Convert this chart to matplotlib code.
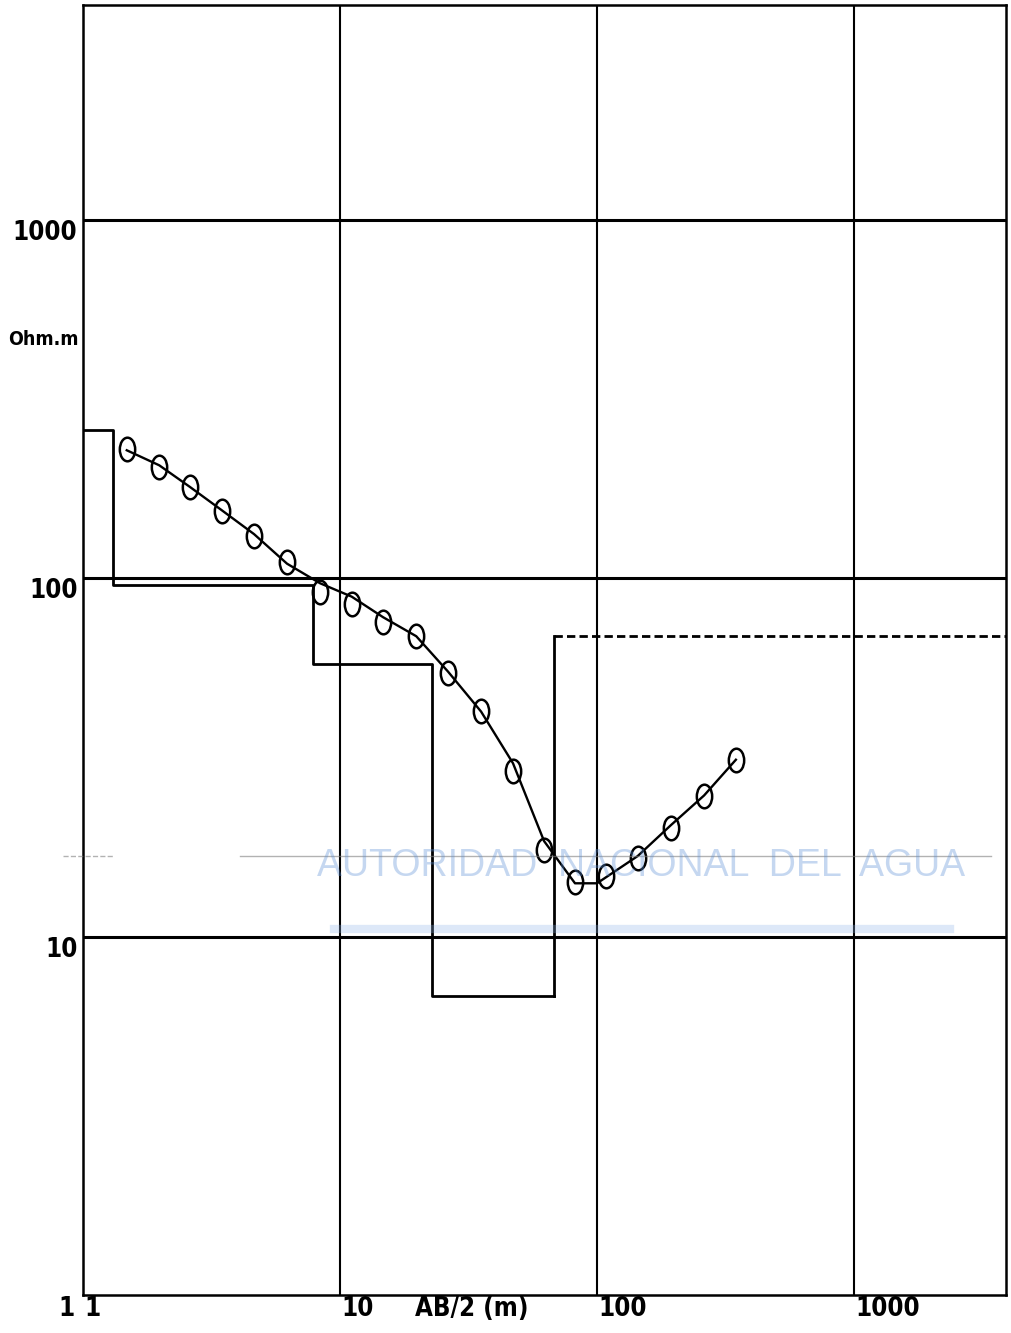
import matplotlib
matplotlib.use("Agg")
import matplotlib.pyplot as plt
from matplotlib.markers import MarkerStyle
from matplotlib.transforms import Affine2D

# sondeo electrico vertical - curva de campo y modelo de capas
ab2 = [1.48, 1.98, 2.61, 3.47, 4.63, 6.22, 8.36, 11.1, 14.7, 19.8,
       26.3, 35.4, 47.1, 62.2, 82.1, 108, 144, 194, 261, 347]
rho_obs = [230, 205, 180, 154, 131, 111, 91.7, 84.9, 75.6, 69.1,
           54.5, 42.7, 29.0, 17.5, 14.2, 14.8, 16.6, 20.1, 24.7, 31.2]

# curva calculada
ab2_calc = [1.48, 1.98, 2.61, 3.47, 4.63, 6.22, 8.36, 11.1, 14.7, 19.8,
            26.3, 35.4, 47.1, 62.2, 82.1, 100, 144, 194, 261, 347]
rho_calc = [228, 207, 180, 155, 133, 110, 97, 89, 78, 69,
            55, 42.5, 30.5, 18.5, 14.1, 14.1, 16.8, 20.5, 24.8, 31.2]

# modelo de capas
prof = [1.0, 1.31, 7.85, 22.8, 68.0]
rho_capa = [260, 95.9, 57.7, 6.85]
rho_sust = 69.1
x_max = 3900

plt.rcParams['font.family'] = ['DejaVu Sans']
plt.rcParams['font.stretch'] = 'condensed'
plt.rcParams['font.weight'] = 'bold'

fig = plt.figure(figsize=(10.11, 13.33), dpi=100)
ax = fig.add_axes([0.0821, 0.0285, 0.9129, 0.9675])
ax.set_xscale('log')
ax.set_yscale('log')
ax.set_xlim(1, x_max)
ax.set_ylim(1, 3980)

for v in [10, 100, 1000]:
    ax.axvline(v, color='black', lw=1.5, zorder=1)
    ax.axhline(v, color='black', lw=2.2, zorder=1)
for s in ax.spines.values():
    s.set_linewidth(1.8)
ax.tick_params(which='both', length=0, labelleft=False, labelbottom=False)

# modelo escalonado
xs, ys = [], []
for i, r in enumerate(rho_capa):
    xs += [prof[i], prof[i + 1]]
    ys += [r, r]
ax.plot(xs, ys, color='black', lw=2.0, zorder=2)
ax.plot([prof[-1], prof[-1]], [rho_capa[-1], rho_sust], color='black', lw=2.0, zorder=2)
ax.plot([prof[-1], x_max], [rho_sust, rho_sust], color='black', lw=2.0,
        ls=(0, (3, 1.5)), zorder=2)

ax.plot(ab2_calc, rho_calc, color='black', lw=1.7, zorder=3)
elipse = MarkerStyle('o', transform=Affine2D().scale(0.65, 1.0))
ax.plot(ab2, rho_obs, ls='none', marker=elipse, ms=17, mfc='none',
        mec='black', mew=1.8, zorder=4)

# etiquetas
fs = 18.5
for v, t in [(1000, '1000'), (100, '100'), (10, '10')]:
    ax.text(-0.006, v, t, transform=ax.get_yaxis_transform(), ha='right',
            va='top', fontsize=fs)
ax.text(-0.009, -0.001, '1', transform=ax.transAxes, ha='right', va='top',
        fontsize=fs)
for v, t in [(1, '1'), (10, '10'), (100, '100'), (1000, '1000')]:
    ax.text(v * 1.01, -0.001, t, transform=ax.get_xaxis_transform(), ha='left',
            va='top', fontsize=fs)
ax.text(19.5, -0.001, 'AB/2 (m)', transform=ax.get_xaxis_transform(), ha='left',
        va='top', fontsize=fs)
fig.text(0.043, 0.745, 'Ohm.m', ha='center', va='center', fontsize=14)

# marca de agua
fig.text(0.634, 0.35, 'AUTORIDAD  NACIONAL  DEL  AGUA', ha='center', va='center',
         fontsize=27, color='#5b8fd6', alpha=0.35, weight='normal',
         family=['Liberation Sans', 'DejaVu Sans'], stretch='normal')
fig.add_artist(plt.Line2D([0.237, 0.98], [0.3575, 0.3575], color='gray', lw=1, alpha=0.6))
fig.add_artist(plt.Line2D([0.062, 0.112], [0.3575, 0.3575], color='gray', lw=1,
                          ls='--', alpha=0.6))
fig.add_artist(plt.Line2D([0.33, 0.94], [0.303, 0.303], color='#8fb4e8', lw=6, alpha=0.3))

fig.savefig('out.png', dpi=100)
